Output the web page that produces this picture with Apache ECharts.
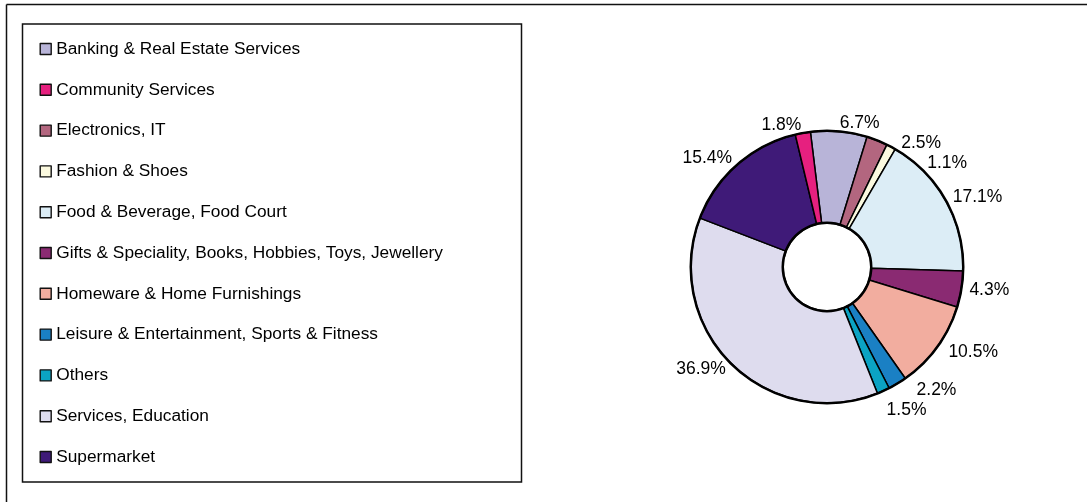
<!DOCTYPE html>
<html>
<head>
<meta charset="utf-8">
<script src="https://cdn.jsdelivr.net/npm/echarts@6/dist/echarts.min.js"></script>
<style>
  html, body { margin: 0; padding: 0; background: #fff; }
  #chart { width: 1087px; height: 502px; }
</style>
</head>
<body>
<div id="chart"></div>
<script>
// Tenant mix by category, share of floor space (%)
const legendNames = [
  'Banking & Real Estate Services',
  'Community Services',
  'Electronics, IT',
  'Fashion & Shoes',
  'Food & Beverage, Food Court',
  'Gifts & Speciality, Books, Hobbies, Toys, Jewellery',
  'Homeware & Home Furnishings',
  'Leisure & Entertainment, Sports & Fitness',
  'Others',
  'Services, Education',
  'Supermarket'
];

// Slices in clockwise drawing order
const sliceNames = [
  'Banking & Real Estate Services',
  'Electronics, IT',
  'Fashion & Shoes',
  'Food & Beverage, Food Court',
  'Gifts & Speciality, Books, Hobbies, Toys, Jewellery',
  'Homeware & Home Furnishings',
  'Leisure & Entertainment, Sports & Fitness',
  'Others',
  'Services, Education',
  'Supermarket',
  'Community Services'
];
const sliceValues = [6.7, 2.5, 1.1, 17.1, 4.3, 10.5, 2.2, 1.5, 36.9, 15.4, 1.8];

const categoryColors = {
  'Banking & Real Estate Services': '#b8b4d8',
  'Community Services': '#e6207f',
  'Electronics, IT': '#b3667f',
  'Fashion & Shoes': '#fbf9df',
  'Food & Beverage, Food Court': '#dcedf6',
  'Gifts & Speciality, Books, Hobbies, Toys, Jewellery': '#8a2a72',
  'Homeware & Home Furnishings': '#f2ad9f',
  'Leisure & Entertainment, Sports & Fitness': '#1a80c4',
  'Others': '#0ba3c3',
  'Services, Education': '#dedcee',
  'Supermarket': '#3f1a78'
};

const FONT = '"Liberation Sans", Arial, Helvetica, sans-serif';
const pieCenter = [827, 267];

const chart = echarts.init(document.getElementById('chart'), null, { renderer: 'canvas' });

chart.setOption({
  animation: false,
  backgroundColor: '#ffffff',
  graphic: [
    { type: 'line', shape: { x1: 6.5, y1: 4.5, x2: 1087, y2: 4.5 }, style: { stroke: '#111', lineWidth: 1.5 } },
    { type: 'line', shape: { x1: 6.5, y1: 4.5, x2: 6.5, y2: 502 }, style: { stroke: '#111', lineWidth: 1.5 } },
    { type: 'rect', shape: { x: 22.5, y: 24, width: 499, height: 458 }, style: { fill: 'none', stroke: '#111', lineWidth: 1.5 } }
  ],
  legend: {
    orient: 'vertical',
    left: 34.5,
    top: 35.5,
    data: legendNames,
    icon: 'rect',
    itemWidth: 11,
    itemHeight: 11,
    itemGap: 23.8,
    itemStyle: { borderColor: '#111', borderWidth: 1.4 },
    textStyle: { fontFamily: FONT, fontSize: 17.3, lineHeight: 17, color: '#000' },
    selectedMode: false
  },
  series: [
    {
      type: 'pie',
      center: pieCenter,
      radius: [44, 136],
      startAngle: 97,
      clockwise: true,
      avoidLabelOverlap: true,
      itemStyle: { borderColor: '#000', borderWidth: 1.5 },
      label: {
        show: true,
        position: 'outside',
        formatter: p => p.value.toFixed(1) + '%',
        fontFamily: FONT,
        fontSize: 17.5,
        color: '#000',
        distanceToLabelLine: 0
      },
      labelLine: { show: false, length: 8, length2: 0 },
      labelLayout: { hideOverlap: false },
      emphasis: { disabled: true },
      data: sliceNames.map((n, i) => ({
        name: n,
        value: sliceValues[i],
        itemStyle: { color: categoryColors[n] }
      }))
    },
    {
      // heavy outer rim
      type: 'pie',
      center: pieCenter,
      radius: [135, 137.5],
      silent: true,
      label: { show: false },
      labelLine: { show: false },
      itemStyle: { color: '#000', borderWidth: 0 },
      data: [{ name: '_rim', value: 1 }]
    },
    {
      // heavy inner rim
      type: 'pie',
      center: pieCenter,
      radius: [43, 45.5],
      silent: true,
      label: { show: false },
      labelLine: { show: false },
      itemStyle: { color: '#000', borderWidth: 0 },
      data: [{ name: '_hole', value: 1 }]
    }
  ]
});
</script>
</body>
</html>
